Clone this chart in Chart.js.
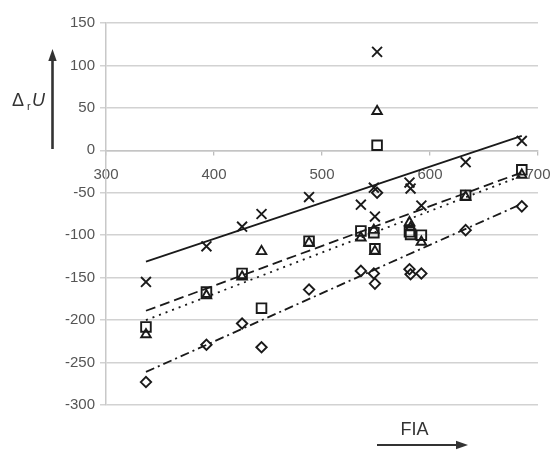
<!DOCTYPE html>
<html>
<head>
<meta charset="utf-8">
<script src="https://cdn.jsdelivr.net/npm/chart.js@4/dist/chart.umd.min.js"></script>
<style>
  html, body { margin: 0; padding: 0; background: #ffffff; }
  #wrap { position: relative; width: 551px; height: 450px; }
</style>
</head>
<body>
<div id="wrap"><canvas id="c" width="551" height="450"></canvas></div>
<script>
// FIA values of the compounds (x)
const fia = [337, 393, 426, 444, 488, 536, 548, 549, 551, 581, 582, 592, 633, 685];
// Δr U values per series
const crossVals   = [-155, -113, -90, -75, -55, -64, -44, -78, 116, -38, -45, -65, -14, 11];
const squareVals  = [-208, -167, -145, -186, -107, -95, -97, -116, 6, -96, -99, -100, -53, -23];
const triangleVals= [-217, -171, -149, -119, -109, -103, -94, -119, 46, -85, -91, -108, -55, -29];
const diamondVals = [-273, -229, -204, -232, -164, -142, -145, -157, -50, -140, -146, -145, -94, -66];
// trend line end points
const trendX = [337, 685];
const trendCross    = [-131, 17];
const trendSquare   = [-189, -26];
const trendTriangle = [-200, -30];
const trendDiamond  = [-261, -63];
// axis ticks
const xTicks = [300, 400, 500, 600, 700];
const yTicks = [150, 100, 50, 0, -50, -100, -150, -200, -250, -300];

const pts = (ys) => fia.map((x, i) => ({ x: x, y: ys[i] }));
const line = (ys) => trendX.map((x, i) => ({ x: x, y: ys[i] }));

const ink = '#1a1a1a';
const markerBase = { showLine: false, borderColor: ink, backgroundColor: 'rgba(255,255,255,0)', borderWidth: 1.9 };
const lineBase = { showLine: true, pointRadius: 0, borderColor: ink, borderWidth: 1.8, fill: false, tension: 0 };

const titles = {
  id: 'titles',
  afterDraw(chart) {
    const ctx = chart.ctx;
    ctx.save();
    ctx.fillStyle = '#333';
    ctx.strokeStyle = '#333';
    // y title: Δ r U
    ctx.textBaseline = 'alphabetic';
    ctx.textAlign = 'left';
    ctx.font = '18px "Liberation Sans", Arial, sans-serif';
    ctx.fillText('Δ', 12, 106);
    ctx.font = '11px "Liberation Sans", Arial, sans-serif';
    ctx.fillText('r', 27, 110);
    ctx.font = 'italic 18px "Liberation Sans", Arial, sans-serif';
    ctx.fillText('U', 32, 106);
    // y arrow
    ctx.lineWidth = 2.6;
    ctx.beginPath(); ctx.moveTo(52.5, 149); ctx.lineTo(52.5, 58); ctx.stroke();
    ctx.beginPath(); ctx.moveTo(52.5, 49); ctx.lineTo(48.3, 61); ctx.lineTo(56.7, 61); ctx.closePath(); ctx.fill();
    // x title
    ctx.textAlign = 'center';
    ctx.font = '18px "Liberation Sans", Arial, sans-serif';
    ctx.fillText('FIA', 414.5, 435);
    // x arrow
    ctx.lineWidth = 2.2;
    ctx.beginPath(); ctx.moveTo(377, 445); ctx.lineTo(460, 445); ctx.stroke();
    ctx.beginPath(); ctx.moveTo(468, 445); ctx.lineTo(456, 440.8); ctx.lineTo(456, 449.2); ctx.closePath(); ctx.fill();
    ctx.restore();
  }
};

new Chart(document.getElementById('c'), {
  type: 'scatter',
  data: {
    datasets: [
      Object.assign({ label: 'cross', data: pts(crossVals), pointStyle: 'crossRot', pointRadius: 7 }, markerBase),
      Object.assign({ label: 'square', data: pts(squareVals), pointStyle: 'rect', pointRadius: 6.8 }, markerBase),
      Object.assign({ label: 'triangle', data: pts(triangleVals), pointStyle: 'triangle', pointRadius: 5.5 }, markerBase),
      Object.assign({ label: 'diamond', data: pts(diamondVals), pointStyle: 'rectRot', pointRadius: 5.2 }, markerBase),
      Object.assign({ label: 'trend cross', data: line(trendCross), borderDash: [] }, lineBase),
      Object.assign({ label: 'trend square', data: line(trendSquare), borderDash: [10, 5] }, lineBase),
      Object.assign({ label: 'trend triangle', data: line(trendTriangle), borderDash: [2, 5] }, lineBase),
      Object.assign({ label: 'trend diamond', data: line(trendDiamond), borderDash: [9, 4, 2, 4] }, lineBase)
    ]
  },
  options: {
    responsive: false,
    animation: false,
    events: [],
    layout: { padding: { left: 0, right: 13, top: 23, bottom: 45 } },
    plugins: { legend: { display: false }, tooltip: { enabled: false } },
    scales: {
      x: {
        type: 'linear',
        position: { y: 0 },
        min: 300, max: 700,
        afterBuildTicks: (s) => { s.ticks = xTicks.map(v => ({ value: v })); },
        afterFit: (s) => { s.paddingLeft = 0; s.paddingRight = 0; },
        ticks: { color: '#555', font: { family: '"Liberation Sans", Arial, sans-serif', size: 15 }, padding: 12, maxRotation: 0 },
        grid: { display: true, drawOnChartArea: false, drawTicks: true, tickLength: 4, color: '#bdbdbd', lineWidth: 1.3 },
        border: { display: true, color: '#c4c4c4', width: 1.5 }
      },
      y: {
        type: 'linear',
        position: 'left',
        min: -300, max: 150,
        afterBuildTicks: (s) => { s.ticks = yTicks.map(v => ({ value: v })); },
        afterFit: (s) => { s.width = 106; },
        ticks: { color: '#555', font: { family: '"Liberation Sans", Arial, sans-serif', size: 15 }, padding: 5 },
        grid: { display: true, drawTicks: true, tickLength: 6, color: '#d2d2d2', lineWidth: 1.5 },
        border: { display: true, color: '#c8c8c8', width: 1.5 }
      }
    }
  },
  plugins: [titles]
});
</script>
</body>
</html>
